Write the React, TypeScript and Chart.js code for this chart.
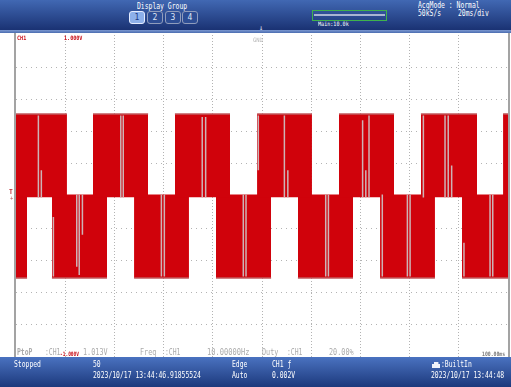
import React, { useEffect, useRef } from 'react';
import { Chart, registerables } from 'chart.js';

Chart.register(...registerables);

// Horizontal sweep: 20 ms/div over 10 divisions; vertical: 0.2 V/div around 0 V.
const TIME_MIN = 0;
const TIME_MAX = 200;
const TIME_DIV = 20;
const VOLT_MIN = -1;
const VOLT_MAX = 1;
const VOLT_DIV = 0.2;

// Switching levels of the captured CH1 signal (V).
const HIGH_LEVEL = 0.51;
const LOW_LEVEL = -0.51;
const UPPER_BASE = -0.008;
const LOWER_BASE = 0.01;

// Positive switching bursts, [start ms, end ms].
const upperBursts: [number, number][] = [
  [0, 20.7],
  [31.3, 53.7],
  [64.6, 87.0],
  [98.0, 120.3],
  [131.3, 153.7],
  [164.6, 187.4],
  [198.0, 200],
];

// Negative switching bursts, [start ms, end ms].
const lowerBursts: [number, number][] = [
  [0, 4.5],
  [14.6, 37.0],
  [48.0, 70.3],
  [81.3, 103.7],
  [114.6, 137.0],
  [148.0, 170.3],
  [181.3, 200],
];

// Isolated glitch streaks inside the bursts: [time ms, from V, to V].
const glitches: [number, number, number][] = [
  [9.1, 0.5, -0.01],
  [10.3, 0.16, -0.01],
  [42.6, 0.5, -0.01],
  [43.6, 0.5, -0.01],
  [75.7, 0.49, -0.01],
  [77.1, 0.49, -0.01],
  [98.5, 0.5, 0.16],
  [109.1, 0.5, -0.01],
  [110.5, 0.16, -0.01],
  [140.9, 0.47, -0.01],
  [142.2, 0.16, -0.01],
  [143.5, 0.5, -0.01],
  [165.6, 0.5, -0.01],
  [174.4, 0.5, -0.01],
  [175.7, 0.5, -0.01],
  [177.1, 0.19, -0.01],
  [15.2, -0.13, -0.5],
  [24.7, 0.01, -0.44],
  [25.7, 0.01, -0.49],
  [27.0, 0.01, -0.24],
  [59.1, 0.01, -0.5],
  [60.3, 0.01, -0.5],
  [92.4, 0.01, -0.5],
  [93.5, 0.01, -0.5],
  [125.9, 0.01, -0.5],
  [127.0, 0.01, -0.5],
  [148.9, 0.01, -0.5],
  [159.1, 0.01, -0.5],
  [160.2, 0.01, -0.5],
  [182.1, -0.29, -0.5],
  [192.7, 0.01, -0.5],
  [193.8, 0.01, -0.5],
];

const TRACE_RED = '#d0020b';
const GRID_GRAY = '#b3b3b3';

type Pt = { x: number; y: number | null };

function burstPoints(bursts: [number, number][], level: number): Pt[] {
  const pts: Pt[] = [];
  bursts.forEach(([s, e]) => {
    pts.push({ x: s, y: level }, { x: e, y: level }, { x: e, y: null });
  });
  return pts;
}

function glitchPoints(list: [number, number, number][]): Pt[] {
  const pts: Pt[] = [];
  list.forEach(([t, a, b]) => {
    pts.push({ x: t, y: a }, { x: t, y: b }, { x: t, y: null });
  });
  return pts;
}

// Grid lines only inside the graticule; the outer edges are the frame.
function innerGrid(min: number, max: number) {
  return (ctx: any) => {
    const v = ctx.tick ? ctx.tick.value : 0;
    return v <= min || v >= max ? 'rgba(0,0,0,0)' : GRID_GRAY;
  };
}

// Solid frame on the left and right of the graticule.
const framePlugin = {
  id: 'scopeFrame',
  afterDatasetsDraw(chart: any) {
    const { ctx, chartArea } = chart;
    ctx.save();
    ctx.strokeStyle = '#a3a3a3';
    ctx.lineWidth = 2;
    ctx.beginPath();
    ctx.moveTo(chartArea.left - 1, chartArea.top - 2);
    ctx.lineTo(chartArea.left - 1, chartArea.bottom);
    ctx.moveTo(chartArea.right + 1, chartArea.top - 2);
    ctx.lineTo(chartArea.right + 1, chartArea.bottom);
    ctx.stroke();
    ctx.restore();
  },
};

const MONO = '"DejaVu Sans Mono", "Liberation Mono", monospace';

function Txt(props: {
  x: number;
  y: number;
  s: string;
  c?: string;
  fs?: number;
  sx?: number;
  w?: number;
}) {
  const { x, y, s, c = '#ffffff', fs = 8, sx = 0.8, w = 400 } = props;
  return (
    <div
      style={{
        position: 'absolute',
        left: x,
        top: y,
        fontFamily: MONO,
        fontSize: fs,
        lineHeight: `${fs}px`,
        fontWeight: w,
        color: c,
        whiteSpace: 'pre',
        transform: `scaleX(${sx})`,
        transformOrigin: '0 0',
      }}
    >
      {s}
    </div>
  );
}

const groupButtons = ['1', '2', '3', '4'];
const buttonLefts = [129, 147, 165, 182];

export default function App() {
  const canvasRef = useRef<HTMLCanvasElement | null>(null);

  useEffect(() => {
    document.body.style.margin = '0';
    const canvas = canvasRef.current;
    if (!canvas) return;
    const chart = new Chart(canvas, {
      type: 'line',
      data: {
        datasets: [
          {
            label: 'glitch',
            data: glitchPoints(glitches) as any,
            borderColor: '#cdb3b6',
            borderWidth: 1.5,
            fill: false,
            pointRadius: 0,
            spanGaps: false,
          },
          {
            label: 'CH1 +',
            data: burstPoints(upperBursts, HIGH_LEVEL) as any,
            borderColor: '#c25a5e',
            borderWidth: 1.5,
            backgroundColor: TRACE_RED,
            fill: { value: UPPER_BASE } as any,
            pointRadius: 0,
            spanGaps: false,
          },
          {
            label: 'CH1 -',
            data: burstPoints(lowerBursts, LOW_LEVEL) as any,
            borderColor: '#c25a5e',
            borderWidth: 1.5,
            backgroundColor: TRACE_RED,
            fill: { value: LOWER_BASE } as any,
            pointRadius: 0,
            spanGaps: false,
          },
        ],
      },
      options: {
        animation: false,
        responsive: false,
        maintainAspectRatio: false,
        events: [],
        layout: { padding: { left: 16, right: 3, top: 35, bottom: 30 } },
        plugins: {
          legend: { display: false },
          tooltip: { enabled: false },
        },
        scales: {
          x: {
            type: 'linear',
            min: TIME_MIN,
            max: TIME_MAX,
            ticks: { display: false, stepSize: TIME_DIV },
            grid: { color: innerGrid(TIME_MIN, TIME_MAX), lineWidth: 1, drawTicks: false },
            border: { display: false, dash: [1, 2] },
          },
          y: {
            type: 'linear',
            min: VOLT_MIN,
            max: VOLT_MAX,
            ticks: { display: false, stepSize: VOLT_DIV },
            grid: { color: innerGrid(VOLT_MIN, VOLT_MAX), lineWidth: 1, drawTicks: false },
            border: { display: false, dash: [1, 4] },
          },
        },
      },
      plugins: [framePlugin],
    });
    return () => chart.destroy();
  }, []);

  const gray = '#aaaaaa';

  return (
    <div
      style={{
        position: 'fixed',
        left: 0,
        top: 0,
        width: 511,
        height: 387,
        background: '#ffffff',
        overflow: 'hidden',
      }}
    >
      <canvas
        ref={canvasRef}
        width={511}
        height={387}
        style={{ position: 'absolute', left: 0, top: 0, width: 511, height: 387 }}
      />

      {/* header bar */}
      <div
        style={{
          position: 'absolute',
          left: 0,
          top: 0,
          width: 511,
          height: 30,
          background: 'linear-gradient(#4168b3, #1a3273)',
        }}
      />
      <div
        style={{
          position: 'absolute',
          left: 0,
          top: 30,
          width: 511,
          height: 3,
          background: 'linear-gradient(#7c98d0, #4a6cb0)',
        }}
      />
      <Txt x={137} y={3} s="Display Group" />
      {groupButtons.map((b, i) => (
        <div
          key={b}
          style={{
            position: 'absolute',
            left: buttonLefts[i],
            top: 11,
            width: 14,
            height: 11,
            borderRadius: 3,
            border: i === 0 ? '1px solid #e4ecff' : '1px solid #8f9cbc',
            background: i === 0 ? '#8db0ea' : '#2d4d94',
            color: i === 0 ? '#1c3b85' : '#dfe6f5',
            fontFamily: MONO,
            fontSize: 8,
            lineHeight: '11px',
            textAlign: 'center',
          }}
        >
          {b}
        </div>
      ))}
      <div
        style={{
          position: 'absolute',
          left: 312,
          top: 10,
          width: 73,
          height: 9,
          border: '1px solid #3fb24c',
        }}
      />
      <div
        style={{
          position: 'absolute',
          left: 314,
          top: 14,
          width: 71,
          height: 2,
          background: '#a9b5d3',
        }}
      />
      <Txt x={318} y={21} s="Main:10.0k" fs={6} sx={0.85} />
      <Txt x={259} y={25} s="↓" fs={7} sx={1} c="#e8ecf8" />
      <Txt x={418} y={2} s="AcqMode : Normal" />
      <Txt x={418} y={10} s="50kS/s" />
      <Txt x={458} y={10} s="20ms/div" />

      {/* graticule labels */}
      <Txt x={17} y={35} s="CH1" c="#c8101a" fs={6} sx={0.85} w={700} />
      <Txt x={64} y={35} s="1.000V" c="#c8101a" fs={6} sx={0.85} w={700} />
      <Txt x={253} y={37} s="GND" c="#b8b8b8" fs={6} sx={0.9} />
      <Txt x={9} y={189} s="T" c="#c03038" fs={7} sx={0.9} w={700} />
      <Txt x={10} y={195} s="+" c="#c05058" fs={6} sx={0.9} />

      {/* measurement row */}
      <Txt x={17} y={349} s="PtoP" c={gray} fs={8} sx={0.8} w={700} />
      <Txt x={45} y={349} s=":CH1" c={gray} />
      <Txt x={60} y={351} s="-1.000V" c="#c8101a" fs={6} sx={0.75} w={700} />
      <Txt x={83} y={349} s="1.013V" c={gray} fs={8} sx={0.85} />
      <Txt x={140} y={349} s="Freq" c={gray} fs={8} sx={0.85} />
      <Txt x={165} y={349} s=":CH1" c={gray} />
      <Txt x={207} y={349} s="10.00000Hz" c={gray} fs={8} sx={0.88} />
      <Txt x={262} y={349} s="Duty" c={gray} fs={8} sx={0.85} />
      <Txt x={287} y={349} s=":CH1" c={gray} />
      <Txt x={329} y={349} s="20.00%" c={gray} fs={8} sx={0.85} />
      <Txt x={482} y={351} s="100.00ms" c="#7a7a7a" fs={6} sx={0.8} w={700} />

      {/* status bar */}
      <div
        style={{
          position: 'absolute',
          left: 0,
          top: 357,
          width: 511,
          height: 30,
          background: 'linear-gradient(#4a72c0, #1c397c)',
        }}
      />
      <Txt x={14} y={361} s="Stopped" />
      <Txt x={93} y={361} s="50" />
      <Txt x={93} y={372} s="2023/10/17 13:44:46.91855524" />
      <Txt x={232} y={361} s="Edge" />
      <Txt x={232} y={372} s="Auto" />
      <Txt x={272} y={361} s="CH1 ƒ" />
      <Txt x={272} y={372} s="0.002V" />
      <div
        style={{
          position: 'absolute',
          left: 432,
          top: 362,
          width: 8,
          height: 6,
          background: '#f0f3fa',
          clipPath: 'polygon(0 35%, 25% 35%, 25% 0, 80% 0, 80% 35%, 100% 35%, 100% 100%, 0 100%)',
        }}
      />
      <Txt x={441} y={361} s=":BuiltIn" />
      <Txt x={431} y={372} s="2023/10/17 13:44:48" />
    </div>
  );
}
